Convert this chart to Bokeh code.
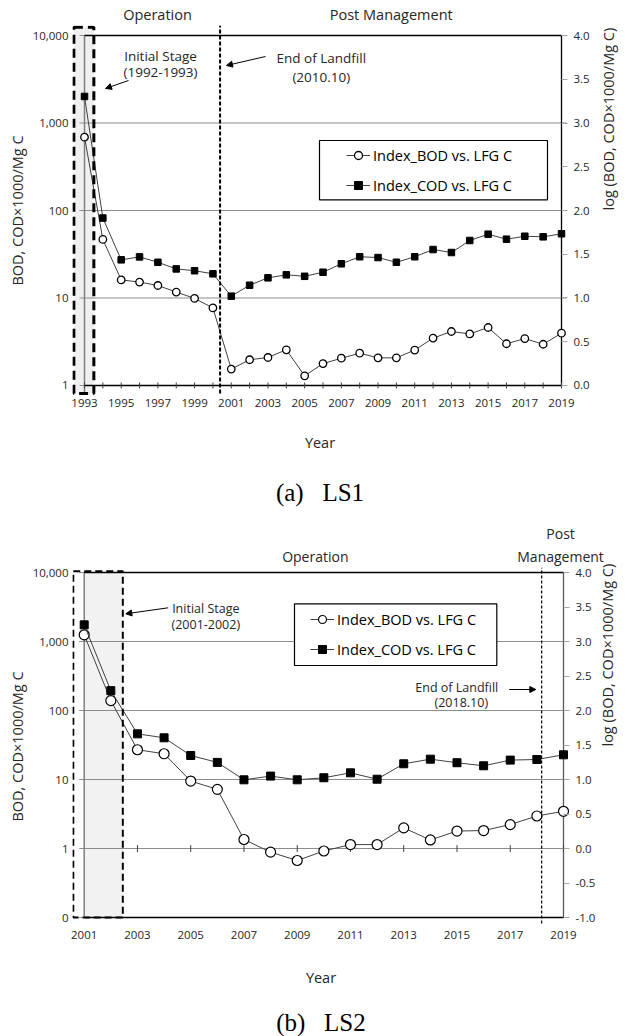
import math
from bokeh.plotting import figure
from bokeh.models import (Range1d, LinearAxis, LogAxis, LinearScale, FixedTicker,
                          BoxAnnotation, Label, Arrow, NormalHead, Legend, LegendItem,
                          CustomJSTickFormatter)
from bokeh.layouts import column
from bokeh.embed import file_html
from bokeh.resources import INLINE

# ---------------- data ----------------
YEARS_LS1 = list(range(1993, 2020))
BOD_LS1 = [689, 46.7, 16.1, 15.2, 13.9, 11.7, 9.9, 7.7, 1.54, 1.97, 2.09, 2.56, 1.29, 1.78,
           2.05, 2.34, 2.07, 2.07, 2.54, 3.48, 4.14, 3.89, 4.60, 3.00, 3.44, 2.96, 3.96]
COD_LS1 = [2010, 82, 27.3, 29.5, 25.6, 21.5, 20.5, 18.9, 10.5, 14.0, 17.0, 18.4, 17.7, 19.7,
           24.6, 29.6, 29.0, 25.6, 29.6, 35.8, 33.1, 45.4, 53.6, 47.0, 50.8, 50.0, 54.2]

YEARS_LS2 = list(range(2001, 2020))
BOD_LS2 = [1250, 139, 27.0, 23.6, 9.5, 7.2, 1.35, 0.885, 0.67, 0.92, 1.14, 1.14, 1.99, 1.33,
           1.79, 1.82, 2.22, 2.96, 3.46]
COD_LS2 = [1742, 194, 45.9, 40.2, 22.3, 17.7, 9.9, 11.2, 9.9, 10.6, 12.5, 10.1, 16.9, 19.7,
           17.5, 15.8, 19.1, 19.5, 22.8]

Y_TICKS_LS1 = [1, 10, 100, 1000, 10000]
Y_LABELS_LS1 = ["1", "10", "100", "1,000", "10,000"]
Y_TICKS_LS2 = [0.1, 1, 10, 100, 1000, 10000]
Y_LABELS_LS2 = ["0", "1", "10", "100", "1,000", "10,000"]
LOG_TICKS_LS1 = [0.0, 0.5, 1.0, 1.5, 2.0, 2.5, 3.0, 3.5, 4.0]
LOG_LABELS_LS1 = ["0.0", "0.5", "1.0", "1.5", "2.0", "2.5", "3.0", "3.5", "4.0"]
LOG_TICKS_LS2 = [-1.0, -0.5, 0.0, 0.5, 1.0, 1.5, 2.0, 2.5, 3.0, 3.5, 4.0]
LOG_LABELS_LS2 = ["-1.0", "-0.5", "0.0", "0.5", "1.0", "1.5", "2.0", "2.5", "3.0", "3.5", "4.0"]
X_TICKS_LS1 = list(range(1993, 2020, 2))
X_TICKS_LS2 = list(range(2001, 2020, 2))

# period headings above each panel (x position in years, text)
STAGE_X_LS1 = [1996.98, 2009.72]
STAGE_LABELS_LS1 = ["Operation", "Post Management"]
STAGE_X_LS2 = [2009.68, 2018.89]
STAGE_LABELS_LS2 = ["Operation", "Post\nManagement"]

SERIES_NAMES = ["Index_BOD vs. LFG C", "Index_COD vs. LFG C"]
Y_TITLE = "BOD, COD×1000/Mg C"
Y2_TITLE = "log (BOD, COD×1000/Mg C)"
X_TITLE = "Year"
NB = "\u00a0"
CAPTIONS = ["(a)" + NB * 3 + "LS1", "(b)" + NB * 3 + "LS2"]

FONT = "Open Sans"
TXT = "#262626"
LINE = "#404040"
GRID = "#8c8c8c"


def fmt(ticks, labels):
    return CustomJSTickFormatter(args=dict(tvals=ticks, tlabels=labels), code="""
        for (let i = 0; i < tvals.length; i++) {
            if (Math.abs(tvals[i] - tick) <= 1e-9 * Math.max(1, Math.abs(tick))) return tlabels[i];
        }
        return "";
    """)


NO_TICKS = dict(axis_line_color=None, major_tick_line_color=None, minor_tick_line_color=None,
                major_tick_in=0, major_tick_out=0, minor_tick_in=0, minor_tick_out=0)


def panel(years, xr, log_lo, log_hi, y_ticks, y_labels, log_ticks, log_labels,
          x_ticks, stage_x, stage_labels, stage_size, fw, fh, bl, br, bt, bb,
          x_label_standoff, year_standoff, y2_standoff, caption, cap_standoff, grid_pad):
    p = figure(x_range=Range1d(*xr), y_range=Range1d(10 ** log_lo, 10 ** log_hi),
               y_axis_type="log", x_axis_location=None, y_axis_location=None,
               frame_width=fw, frame_height=fh,
               min_border_left=bl, min_border_right=br, min_border_top=bt, min_border_bottom=bb,
               output_backend="svg", toolbar_location=None,
               outline_line_color=None, background_fill_color="white",
               border_fill_color="white")
    p.grid.visible = False
    p.extra_y_ranges = {"log": Range1d(log_lo, log_hi)}
    p.extra_y_scales = {"log": LinearScale()}

    left = LogAxis(ticker=FixedTicker(ticks=y_ticks), formatter=fmt(y_ticks, y_labels),
                   major_label_standoff=4, major_label_text_font=FONT,
                   major_label_text_font_size="11.5px", major_label_text_color=TXT,
                   axis_label=Y_TITLE, axis_label_standoff=3, axis_label_text_font=FONT,
                   axis_label_text_font_size="14.5px", axis_label_text_font_style="normal",
                   axis_label_text_color=TXT, **NO_TICKS)
    p.add_layout(left, "left")

    right = LinearAxis(y_range_name="log", ticker=FixedTicker(ticks=log_ticks),
                       formatter=fmt(log_ticks, log_labels),
                       axis_line_color=None, major_tick_line_color="#a6a6a6",
                       major_tick_in=6, major_tick_out=0, minor_tick_in=0, minor_tick_out=0,
                       minor_tick_line_color=None, major_label_standoff=6,
                       major_label_text_font=FONT, major_label_text_font_size="11.5px",
                       major_label_text_color=TXT, axis_label=Y2_TITLE,
                       axis_label_standoff=y2_standoff, axis_label_text_font=FONT,
                       axis_label_text_font_size="14.5px", axis_label_text_font_style="normal",
                       axis_label_text_color=TXT, axis_label_orientation=math.pi / 2)
    p.add_layout(right, "right")

    bottom = LinearAxis(ticker=FixedTicker(ticks=x_ticks),
                        major_label_standoff=x_label_standoff, major_label_text_font=FONT,
                        major_label_text_font_size="11.5px", major_label_text_color=TXT,
                        axis_label=X_TITLE, axis_label_standoff=year_standoff,
                        axis_label_text_font=FONT, axis_label_text_font_size="14.5px",
                        axis_label_text_font_style="normal", axis_label_text_color=TXT,
                        **NO_TICKS)
    p.add_layout(bottom, "below")

    # panel caption, placed as the title of an empty axis below the year axis
    cap = LinearAxis(ticker=FixedTicker(ticks=[]), major_label_standoff=0,
                     axis_label=caption, axis_label_standoff=cap_standoff,
                     axis_label_text_font="Liberation Serif", axis_label_text_font_size="25px",
                     axis_label_text_font_style="normal", axis_label_text_color="black",
                     **NO_TICKS)
    p.add_layout(cap, "below")

    top = LinearAxis(ticker=FixedTicker(ticks=stage_x), formatter=fmt(stage_x, stage_labels),
                     major_label_standoff=2, major_label_text_font=FONT,
                     major_label_text_font_size=stage_size, major_label_text_color=TXT,
                     **NO_TICKS)
    p.add_layout(top, "above")

    # horizontal reference lines (grey) at every left-axis tick
    n = len(y_ticks)
    p.segment(x0=[years[0] - grid_pad] * n, y0=y_ticks, x1=[years[-1] + grid_pad] * n,
              y1=y_ticks, line_color=GRID, line_width=1)
    return p


def frame_lines(p, years, y_bottom, y_top, x_axis_value, right_color, left_bottom):
    p.segment(x0=[years[0]], y0=[left_bottom], x1=[years[0]], y1=[y_top],
              line_color="#7f7f7f", line_width=1.5)
    p.segment(x0=[years[-1]], y0=[y_bottom], x1=[years[-1]], y1=[y_top],
              line_color=right_color, line_width=1.3)
    p.segment(x0=[years[0]], y0=[y_top], x1=[years[-1]], y1=[y_top],
              line_color="black", line_width=1.5)
    p.segment(x0=[years[0]], y0=[x_axis_value], x1=[years[-1]], y1=[x_axis_value],
              line_color="black", line_width=1.5)


def series(p, years, bod, cod, csize, ssize, clw):
    lb = p.line(years, bod, line_color=LINE, line_width=1)
    sb = p.scatter(years, bod, marker="circle", size=csize, fill_color="white",
                   line_color="black", line_width=clw)
    lc = p.line(years, cod, line_color=LINE, line_width=1)
    sc = p.scatter(years, cod, marker="square", size=ssize, fill_color="black",
                   line_color="black", line_width=1)
    return [lb, sb], [lc, sc]


def legend(p, rb, rc, box, loc):
    l, r, t, b = box
    p.add_layout(BoxAnnotation(left=l, right=r, top=t, bottom=b, left_units="screen",
                               right_units="screen", top_units="screen", bottom_units="screen",
                               fill_color="white", fill_alpha=1, line_color="black",
                               line_alpha=1, line_width=1.2))
    lg = Legend(items=[LegendItem(label=SERIES_NAMES[0], renderers=rb),
                       LegendItem(label=SERIES_NAMES[1], renderers=rc)],
                location=loc, border_line_color=None, background_fill_alpha=0,
                padding=0, margin=0, spacing=10, glyph_width=24, glyph_height=20,
                label_height=20, label_standoff=3, label_text_font=FONT,
                label_text_font_size="14.5px", label_text_color="black")
    p.add_layout(lg)


def txt(p, x, y, s, size):
    p.add_layout(Label(x=x, y=y, x_units="screen", y_units="screen", text=s,
                       text_align="center", text_baseline="alphabetic", text_font=FONT,
                       text_font_size=size, text_color=TXT))


def arrow(p, x0, y0, x1, y1):
    p.add_layout(Arrow(x_start=x0, y_start=y0, x_end=x1, y_end=y1, start_units="screen",
                       end_units="screen", line_color="black", line_width=1,
                       end=NormalHead(size=6, fill_color="black", line_color="black")))


# ---------------- (a) LS1 ----------------
p1 = panel(YEARS_LS1, (1992.3459, 2019.3270), -0.1143, 4.1143, Y_TICKS_LS1, Y_LABELS_LS1,
           LOG_TICKS_LS1, LOG_LABELS_LS1, X_TICKS_LS1, STAGE_X_LS1, STAGE_LABELS_LS1,
           "14.5px", 495, 370, 72, 74, 25, 122, 3, 23, 16, CAPTIONS[0], 24, 0.27)

p1.renderers.insert(0, p1.renderers.pop())  # grey reference lines first
p1.add_layout(BoxAnnotation(left=1992.42, right=1993.51, bottom=10 ** -0.091, top=10 ** 4.095,
                            fill_color="#f0f0f0", fill_alpha=1, line_alpha=0,
                            level="underlay"))
frame_lines(p1, YEARS_LS1, Y_TICKS_LS1[0], Y_TICKS_LS1[-1], Y_TICKS_LS1[0], "black",
            10 ** -0.09)
# year tick marks crossing the horizontal axis
p1.scatter(YEARS_LS1, [Y_TICKS_LS1[0]] * len(YEARS_LS1), marker="dash", angle=math.pi / 2,
           size=6, line_color=LINE, line_width=1)

rb1, rc1 = series(p1, YEARS_LS1, BOD_LS1, COD_LS1, 7.5, 6.5, 1.3)

p1.add_layout(BoxAnnotation(left=1992.42, right=1993.51, bottom=10 ** -0.091, top=10 ** 4.095,
                            fill_alpha=0, line_color="black", line_alpha=1, line_width=3,
                            line_dash="9 5"))
p1.add_layout(Arrow(end=None, x_start=2000.39, y_start=10 ** -0.091, x_end=2000.39,
                    y_end=10 ** 4.114, line_color="black", line_width=2, line_dash="4 2"))

legend(p1, rb1, rc1, (247, 475, 255, 195.7), (274, 200))

txt(p1, 88, 340, "Initial Stage", "13.5px")
txt(p1, 88, 323.3, "(1992-1993)", "13.5px")
txt(p1, 248.8, 337.7, "End of Landfill", "13.5px")
txt(p1, 248.8, 319, "(2010.10)", "13.5px")
arrow(p1, 56, 315, 33, 307)
arrow(p1, 193, 339, 154, 330)

# ---------------- (b) LS2 ----------------
p2 = panel(YEARS_LS2, (2000.5606, 2019.2253), -1.1159, 4.0725, Y_TICKS_LS2, Y_LABELS_LS2,
           LOG_TICKS_LS2, LOG_LABELS_LS2, X_TICKS_LS2, STAGE_X_LS2, STAGE_LABELS_LS2,
           "14px", 497, 358, 70, 74, 50, 111, 5, 26, 9, CAPTIONS[1], 19, 0.19)

p2.renderers.insert(0, p2.renderers.pop())
p2.add_layout(BoxAnnotation(left=YEARS_LS2[0], right=2002.45, bottom=Y_TICKS_LS2[0],
                            top=Y_TICKS_LS2[-1], fill_color="#f2f2f2", fill_alpha=1,
                            line_alpha=0, level="underlay"))
frame_lines(p2, YEARS_LS2, Y_TICKS_LS2[0], Y_TICKS_LS2[-1], Y_TICKS_LS2[0], "#595959",
            Y_TICKS_LS2[0])
# year tick marks drawn on the value-1 line
p2.scatter(X_TICKS_LS2[1:], [Y_TICKS_LS2[1]] * (len(X_TICKS_LS2) - 1), marker="dash",
           angle=math.pi / 2, size=7, line_color=LINE, line_width=1)

rb2, rc2 = series(p2, YEARS_LS2, BOD_LS2, COD_LS2, 10, 8, 1.2)

p2.add_layout(BoxAnnotation(left=2000.59, right=2002.45, bottom=Y_TICKS_LS2[0],
                            top=10 ** 4.019, fill_alpha=0, line_color="black", line_alpha=1,
                            line_width=2, line_dash="7 4"))
p2.add_layout(Arrow(end=None, x_start=2018.18, y_start=10 ** -1.087, x_end=2018.18,
                    y_end=10 ** 4.0725, line_color="black", line_width=1.2, line_dash="3 2"))

legend(p2, rb2, rc2, (222, 424.3, 321.7, 260), (238, 266))

txt(p2, 133.3, 317.5, "Initial Stage", "12.5px")
txt(p2, 133.3, 301, "(2001-2002)", "12.5px")
arrow(p2, 95.7, 317.7, 53.3, 311.7)
txt(p2, 384.3, 238.3, "End of Landfill", "12.5px")
txt(p2, 388.8, 223.3, "(2018.10)", "12.5px")
arrow(p2, 436.7, 236, 463.3, 236)

layout = column(p1, p2, spacing=0)
open("out.html", "w").write(file_html(layout, INLINE))
